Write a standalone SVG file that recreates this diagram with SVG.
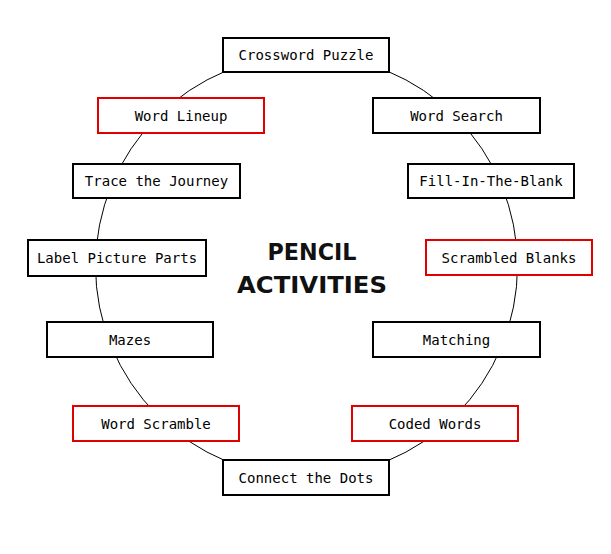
<svg xmlns="http://www.w3.org/2000/svg" width="611" height="554" viewBox="0 0 611 554">
<style>
.n rect{fill:#fff;stroke:#000;stroke-width:2}
.n.r rect{stroke:#e00000}
.n text{font-family:"DejaVu Sans Mono","Liberation Mono",monospace;font-size:14px;fill:#000;text-anchor:middle;dominant-baseline:central}
.t{font-family:"DejaVu Sans","Liberation Sans",sans-serif;font-weight:bold;font-size:23px;fill:#111;text-anchor:middle}
</style>
<rect width="611" height="554" fill="#fff"/>
<g id="connectors"><circle cx="306.5" cy="266" r="211" fill="none" stroke="#000" stroke-width="1"/></g>
<g id="title"><text class="t" x="312" y="260" textLength="89" lengthAdjust="spacingAndGlyphs">PENCIL</text><text class="t" x="312" y="293" textLength="150" lengthAdjust="spacingAndGlyphs">ACTIVITIES</text></g>
<g id="crossword" class="n"><rect x="223" y="38" width="166" height="34"/><text x="306" y="55">Crossword Puzzle</text></g>
<g id="wordlineup" class="n r"><rect x="98" y="98" width="166" height="35"/><text x="181" y="115.5">Word Lineup</text></g>
<g id="wordsearch" class="n"><rect x="373" y="98" width="167" height="35"/><text x="456.5" y="115.5">Word Search</text></g>
<g id="trace" class="n"><rect x="73" y="164" width="167" height="34"/><text x="156.5" y="181">Trace the Journey</text></g>
<g id="fill" class="n"><rect x="408" y="164" width="166" height="34"/><text x="491" y="181">Fill-In-The-Blank</text></g>
<g id="label" class="n"><rect x="28" y="240" width="178" height="36"/><text x="117" y="258">Label Picture Parts</text></g>
<g id="scrambled" class="n r"><rect x="426" y="240" width="166" height="35"/><text x="509" y="257.5">Scrambled Blanks</text></g>
<g id="mazes" class="n"><rect x="47" y="322" width="166" height="35"/><text x="130" y="339.5">Mazes</text></g>
<g id="matching" class="n"><rect x="373" y="322" width="167" height="35"/><text x="456.5" y="339.5">Matching</text></g>
<g id="wordscramble" class="n r"><rect x="73" y="406" width="166" height="35"/><text x="156" y="423.5">Word Scramble</text></g>
<g id="coded" class="n r"><rect x="352" y="406" width="166" height="35"/><text x="435" y="423.5">Coded Words</text></g>
<g id="connect" class="n"><rect x="223" y="460" width="166" height="35"/><text x="306" y="477.5">Connect the Dots</text></g>
</svg>
